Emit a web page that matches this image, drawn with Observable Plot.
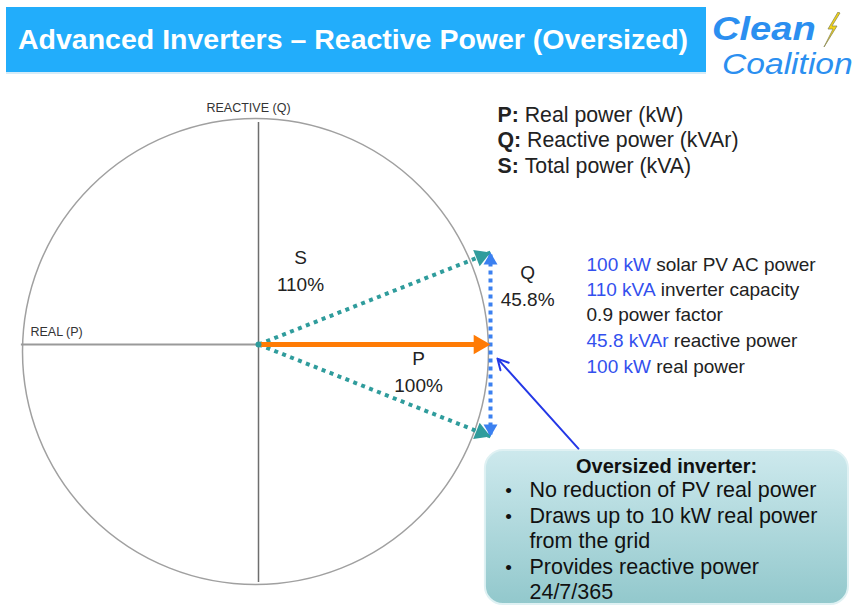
<!DOCTYPE html>
<html><head><meta charset="utf-8">
<script src="https://cdn.jsdelivr.net/npm/d3@7"></script>
<script src="https://cdn.jsdelivr.net/npm/@observablehq/plot@0.6"></script>
<style>
body{margin:0;background:#fff;font-family:"Liberation Sans",Arial,sans-serif;}
#header{position:relative;width:858px;height:80px;overflow:hidden;}
#bar{position:absolute;left:6px;top:7px;width:700px;height:65px;background:#22adfb;color:#fff;font-weight:bold;font-size:28.5px;line-height:65px;padding-left:12px;box-sizing:border-box;white-space:nowrap;box-shadow:0 2px 0 #d6ecf8;}
.logo{position:absolute;color:#2b8ff0;font-style:italic;white-space:nowrap;transform-origin:0 0;}
#clean{left:712px;top:11px;font-size:34px;line-height:34px;font-weight:bold;transform:scaleX(1.12);}
#coal{left:722px;top:49px;font-size:30px;line-height:30px;transform:scaleX(1.12);}
#bolt{position:absolute;left:820px;top:12px;}
</style></head>
<body>
<div id="header">
  <div id="bar">Advanced Inverters – Reactive Power (Oversized)</div>
  <div class="logo" id="clean">Clean</div>
  <div class="logo" id="coal">Coalition</div>
  <svg id="bolt" width="22" height="36" viewBox="0 0 22 36"><polygon points="18,0 8,17 13,17 4,35 17,14 12,14 20,1" fill="#f4d312" stroke="#8c8a5a" stroke-width="0.8"/></svg>
</div>
<div id="chart"></div>
<script>
// ---- values ----
const quantities = ["P", "Q", "S"];
const percents = [100, 45.8, 110];           // P real, Q reactive, S total (% of PV power)
const quantityLabels = ["P\n100%", "Q\n45.8%", "S\n110%"];
const legendKeys = ["P:", "Q:", "S:"];
const legendTexts = ["Real power (kW)", "Reactive power (kVAr)", "Total power (kVA)"];
const specValues = ["100 kW", "110 kVA", "", "45.8 kVAr", "100 kW"];
const specTexts = ["solar PV AC power", "inverter capacity", "0.9 power factor", "reactive power", "real power"];
const calloutTitle = "Oversized inverter:";
const calloutLines = ["No reduction of PV real power", "Draws up to 10 kW real power", "from the grid", "Provides reactive power", "24/7/365"];
const calloutBullets = [true, true, false, true, false];
const axisLabels = ["REACTIVE (Q)", "REAL (P)"];

// ---- annotation anchors (data units) ----
const labelX = [69, 116, 18.1];
const labelY = [-12.7, 30.1, 37.6];
const legendX = 103, legendY = [114.0, 101.5, 88.6];
const specX = 141.4, specY = [39.8, 27.4, 14.9, 2.0, -11.0];
const boxX = [97.8, 254.3], boxY = [-52.8, -129.4];
const calloutTitleX = 175.9, calloutTitleY = -60.7;
const bulletX = 107.8, lineX = 116.8, lineY = [-72.7, -85.6, -98.1, -111.0, -123.4];
const pointerFrom = [137.9, -51.8], pointerTo = [103.0, -7.0];
const realAxisLeft = -102.2, reactiveTop = 110.5, reactiveBottom = -118.5;
const axisLabelX = [-4.3, -98.3], axisLabelY = [117.5, 6.0];

// ---- scale setup ----
const W = 858, H = 527;
const OX = 258, OY = 264, KX = 2.32, KY = 2.009;
const xDomain = [-OX / KX, (W - OX) / KX];
const yDomain = [-(H - OY) / KY, OY / KY];

const P = percents[0], Q = percents[1];
const FONT = '"Liberation Sans", Arial, sans-serif';
const teal = "#2f9c9c", orange = "#ff7b05", qBlue = "#3b80f0", txtBlue = "#3350ee", ink = "#222";

// triangle head geometry: tip lies 2*|y| ahead of symbol centre
function tipOffset(r) { return 2 * Math.sqrt(Math.PI * r * r / (Math.sqrt(3) * 3)); }
function head(x, y, dirx, diry, r) { // dir in screen px
  const len = Math.hypot(dirx, diry), o = tipOffset(r);
  return {x: x - (dirx / len) * o / KX, y: y + (diry / len) * o / KY,
          rot: Math.atan2(diry, dirx) * 180 / Math.PI + 90};
}
const sVecs = [{x: P, y: Q}, {x: P, y: -Q}];
const tealHeads = sVecs.map(d => head(d.x, d.y, d.x * KX, -d.y * KY, 6.5));
const orangeHead = head(P, 0, 1, 0, 7.2);
const blueHeads = [head(P, Q, 0, -1, 5.2), head(P, -Q, 0, 1, 5.2)];

// measure for mixed-colour lines
const ctx = document.createElement("canvas").getContext("2d");
const SPEC_FS = 19;
ctx.font = `${SPEC_FS}px ${FONT}`;
const specRows = specTexts.map((t, i) => {
  const v = specValues[i];
  const w = v ? ctx.measureText(v + " ").width : 0;
  return {v, t, y: specY[i], tx: specX + w / KX};
});
const LEG_FS = 21.3;
ctx.font = `bold ${LEG_FS}px ${FONT}`;
const legendRows = legendKeys.map((k, i) => ({k, t: legendTexts[i], y: legendY[i], tx: legendX + ctx.measureText(k + " ").width / KX}));

const labels = quantities.map((q, i) => ({text: quantityLabels[i], x: labelX[i], y: labelY[i]}));
const callRows = calloutLines.map((t, i) => ({t, b: calloutBullets[i], y: lineY[i]}));
const zero = () => 0;

const svg = Plot.plot({
  width: W, height: H, margin: 0,
  x: {domain: xDomain, axis: null},
  y: {domain: yDomain, axis: null},
  style: {fontFamily: FONT, background: "#fff", overflow: "visible"},
  marks: [
    // callout box
    Plot.rect([0], {x1: () => boxX[0], x2: () => boxX[1], y1: () => boxY[0], y2: () => boxY[1], rx: 18, fill: "url(#calloutGrad)", stroke: "#dff1f3", strokeWidth: 2}),
    // circle
    Plot.dot([0], {x: zero, y: zero, r: 233, dx: -3, dy: 7, stroke: "#a0a0a0", strokeWidth: 1.5, fill: "none"}),
    // axes
    Plot.ruleX([0], {y1: () => reactiveTop, y2: () => reactiveBottom, stroke: "#6e6e6e", strokeWidth: 1.5}),
    Plot.ruleY([0], {x1: () => realAxisLeft, x2: zero, stroke: "#9a9a9a", strokeWidth: 2}),
    Plot.text([axisLabels[0]], {x: () => axisLabelX[0], y: () => axisLabelY[0], text: d => d, textAnchor: "middle", fontSize: 12.5, fill: "#333", letterSpacing: -0.6}),
    Plot.text([axisLabels[1]], {x: () => axisLabelX[1], y: () => axisLabelY[1], text: d => d, textAnchor: "start", fontSize: 12.5, fill: "#333", letterSpacing: -0.4}),
    // S vectors (dotted teal)
    Plot.link(sVecs, {x1: zero, y1: zero, x2: "x", y2: "y", stroke: teal, strokeWidth: 4, strokeDasharray: "4 4.5"}),
    // Q (dotted blue)
    Plot.link([0], {x1: () => P, x2: () => P, y1: () => -Q + 1, y2: () => Q - 1, stroke: qBlue, strokeWidth: 4, strokeDasharray: "4 4"}),
    // P (orange)
    Plot.link([0], {x1: zero, y1: zero, x2: () => orangeHead.x, y2: zero, stroke: orange, strokeWidth: 5}),
    Plot.dot([orangeHead], {x: "x", y: "y", symbol: "triangle", r: 7.2, rotate: "rot", fill: orange}),
    Plot.dot(tealHeads, {x: "x", y: "y", symbol: "triangle", r: 6.5, rotate: "rot", fill: teal}),
    Plot.dot(blueHeads, {x: "x", y: "y", symbol: "triangle", r: 5.2, rotate: "rot", fill: qBlue}),
    Plot.dot([0], {x: zero, y: zero, r: 3, fill: teal}),
    // vector labels
    Plot.text(labels, {x: "x", y: "y", text: "text", fontSize: 19, lineHeight: 1.4, fill: ink}),
    // legend
    Plot.text(legendRows, {x: () => legendX, y: "y", text: "k", textAnchor: "start", fontSize: LEG_FS, fontWeight: "bold", fill: ink}),
    Plot.text(legendRows, {x: "tx", y: "y", text: "t", textAnchor: "start", fontSize: LEG_FS, fill: ink}),
    // specs
    Plot.text(specRows.filter(d => d.v), {x: () => specX, y: "y", text: "v", textAnchor: "start", fontSize: SPEC_FS, fill: txtBlue}),
    Plot.text(specRows, {x: "tx", y: "y", text: "t", textAnchor: "start", fontSize: SPEC_FS, fill: ink}),
    // pointer arrow
    Plot.arrow([0], {x1: () => pointerFrom[0], y1: () => pointerFrom[1], x2: () => pointerTo[0], y2: () => pointerTo[1], stroke: "#2438e6", strokeWidth: 2, headLength: 9, headAngle: 55}),
    // callout text
    Plot.text([calloutTitle], {x: () => calloutTitleX, y: () => calloutTitleY, text: d => d, fontSize: 20, fontWeight: "bold", fill: "#111"}),
    Plot.text(callRows.filter(d => d.b), {x: () => bulletX, y: "y", text: () => "•", fontSize: 19, fill: "#111"}),
    Plot.text(callRows, {x: () => lineX, y: "y", text: "t", textAnchor: "start", fontSize: 21.5, fill: "#111"})
  ]
});

const defs = d3.select(svg).insert("defs", ":first-child");
const g = defs.append("linearGradient").attr("id", "calloutGrad").attr("x1", 0).attr("y1", 0).attr("x2", 0).attr("y2", 1);
g.append("stop").attr("offset", "0%").attr("stop-color", "#cde9ed");
g.append("stop").attr("offset", "100%").attr("stop-color", "#92c8cc");
document.getElementById("chart").appendChild(svg);
</script>
</body></html>
